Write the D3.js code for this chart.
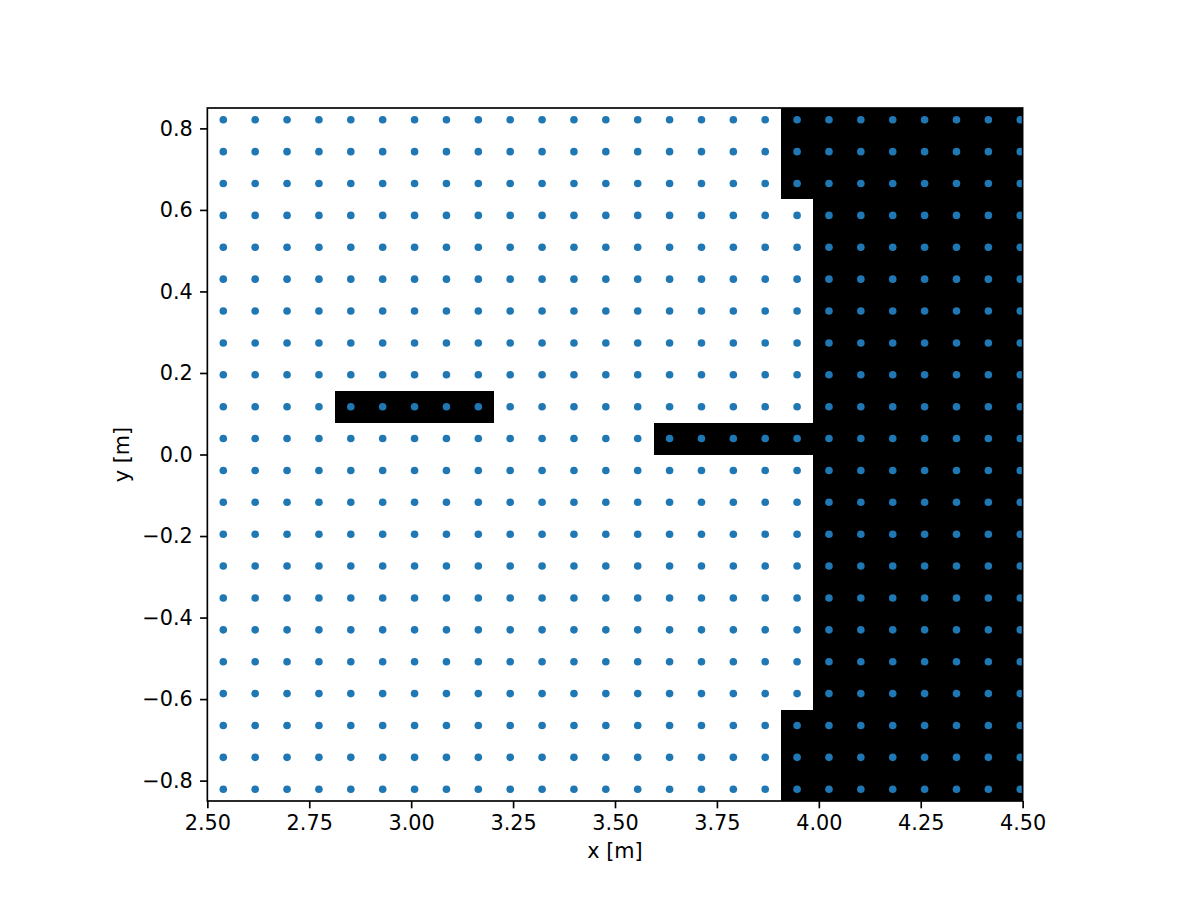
<!DOCTYPE html>
<html>
<head>
<meta charset="utf-8">
<script src="https://cdn.jsdelivr.net/npm/d3@7"></script>
<style>
  html, body { margin: 0; padding: 0; background: #fff; }
  svg { display: block; }
  text { font-family: "DejaVu Sans", sans-serif; fill: #000; }
</style>
</head>
<body>
<svg id="chart" width="1200" height="900"></svg>
<script>
// Grid point centres (x and y, in metres)
const xCenters = [2.5391, 2.6173, 2.6955, 2.7737, 2.8519, 2.9301, 3.0083, 3.0865, 3.1647, 3.2429,
                  3.3211, 3.3993, 3.4775, 3.5557, 3.6339, 3.7121, 3.7903, 3.8685, 3.9467, 4.0249,
                  4.1031, 4.1813, 4.2595, 4.3377, 4.4159, 4.4941];
const yCenters = [0.8211, 0.7429, 0.6647, 0.5865, 0.5083, 0.4301, 0.3519, 0.2737, 0.1955, 0.1173, 0.0391,
                  -0.0391, -0.1173, -0.1955, -0.2737, -0.3519, -0.4301, -0.5083, -0.5865, -0.6647, -0.7429, -0.8211];

// Obstacle cells as rectangles [x0, x1, y0, y1] in metres
const obstacles = [
  [3.9858, 4.5334, -0.8602, 0.8602],
  [3.9076, 3.9858, 0.6256, 0.8602],
  [3.9076, 3.9858, -0.8602, -0.6256],
  [2.8128, 3.2038, 0.0782, 0.1564],
  [3.5948, 3.9858, 0.0, 0.0782]
];

const xTicks = [2.5, 2.75, 3.0, 3.25, 3.5, 3.75, 4.0, 4.25, 4.5];
const yTicks = [-0.8, -0.6, -0.4, -0.2, 0.0, 0.2, 0.4, 0.6, 0.8];
const xDomain = [2.5, 4.5];
const yDomain = [-0.85, 0.85];

const svg = d3.select("#chart");
const plotTop = 108, plotBottom = 801;
const plotH = plotBottom - plotTop;
const plotW = plotH * (xDomain[1] - xDomain[0]) / (yDomain[1] - yDomain[0]);
const plotLeft = 615 - plotW / 2;
const FS = "20.8px";

const x = d3.scaleLinear().domain(xDomain).range([0, plotW]);
const y = d3.scaleLinear().domain(yDomain).range([plotH, 0]);

const g = svg.append("g").attr("transform", `translate(${plotLeft},${plotTop})`);

g.append("defs").append("clipPath").attr("id", "clip")
  .append("rect").attr("x", 0).attr("y", 0).attr("width", plotW).attr("height", plotH);

const plot = g.append("g").attr("clip-path", "url(#clip)");

plot.selectAll("rect.obs").data(obstacles).enter().append("rect")
  .attr("class", "obs")
  .attr("x", d => x(d[0]))
  .attr("width", d => x(d[1]) - x(d[0]))
  .attr("y", d => y(d[3]))
  .attr("height", d => y(d[2]) - y(d[3]))
  .attr("fill", "#000")
  .attr("shape-rendering", "crispEdges");

const pts = [];
yCenters.forEach(yy => xCenters.forEach(xx => pts.push([xx, yy])));
plot.selectAll("circle").data(pts).enter().append("circle")
  .attr("cx", d => x(d[0]))
  .attr("cy", d => y(d[1]))
  .attr("r", 3.8)
  .attr("fill", "#1f77b4");

const fmtX = d3.format(".2f");
const fmtY = v => d3.format(".1f")(v).replace("-", "\u2212");

const xAxis = d3.axisBottom(x).tickValues(xTicks).tickFormat(fmtX).tickSize(7.3).tickPadding(7.3);
const yAxis = d3.axisLeft(y).tickValues(yTicks).tickFormat(fmtY).tickSize(7.3).tickPadding(7.3);

const gx = g.append("g").attr("transform", `translate(0,${plotH})`).call(xAxis);
const gy = g.append("g").call(yAxis);
[gx, gy].forEach(a => {
  a.attr("font-size", null).attr("font-family", null);
  a.select(".domain").remove();
  a.selectAll("line").attr("stroke", "#000").attr("stroke-width", 1.67);
  a.selectAll("text").style("font-size", FS).style("font-family", "'DejaVu Sans', sans-serif").attr("fill", "#000");
});

g.append("rect").attr("x", 0).attr("y", 0).attr("width", plotW).attr("height", plotH)
  .attr("fill", "none").attr("stroke", "#000").attr("stroke-width", 1.67);

svg.append("text").attr("x", plotLeft + plotW / 2).attr("y", 858)
  .attr("text-anchor", "middle").style("font-size", FS).text("x [m]");
svg.append("text").attr("transform", `translate(129,${plotTop + plotH / 2}) rotate(-90)`)
  .attr("text-anchor", "middle").style("font-size", FS).text("y [m]");
</script>
</body>
</html>
